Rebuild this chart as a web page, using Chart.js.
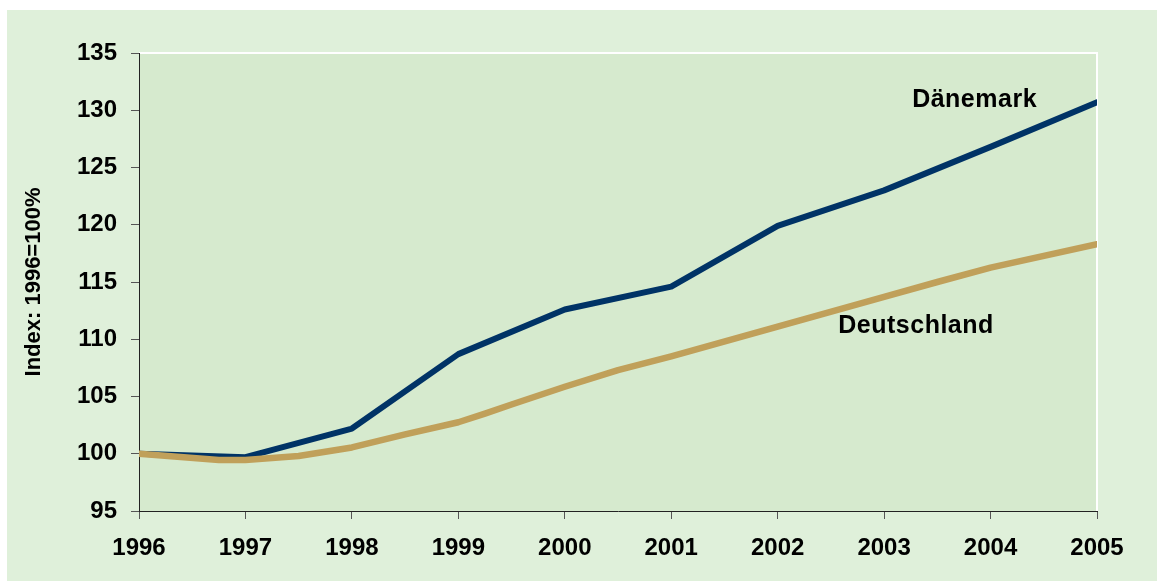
<!DOCTYPE html>
<html>
<head>
<meta charset="utf-8">
<script src="https://cdn.jsdelivr.net/npm/chart.js@4/dist/chart.umd.min.js"></script>
<style>
  html, body { margin: 0; padding: 0; background: #ffffff; }
  #wrap { width: 1157px; height: 581px; position: relative; }
</style>
</head>
<body>
<div id="wrap"><canvas id="indexChart"></canvas></div>
<script>
const yTicks = [95, 100, 105, 110, 115, 120, 125, 130, 135];
const years = [1996, 1997, 1998, 1999, 2000, 2001, 2002, 2003, 2004, 2005];
const daenemark = [100.0, 99.7, 102.2, 108.7, 112.6, 114.6, 119.9, 123.0, 126.8, 130.7];
const deutschlandX = [1996, 1996.75, 1997, 1997.5, 1998, 1998.5, 1999, 1999.25, 1999.5, 2000, 2000.5, 2001, 2002, 2003, 2003.5, 2004, 2005];
const deutschland = [100.0, 99.45, 99.45, 99.8, 100.55, 101.7, 102.75, 103.5, 104.3, 105.85, 107.3, 108.5, 111.1, 113.7, 115.0, 116.25, 118.3];
const seriesLabels = [
    { text: 'Dänemark', x: 2003.85, y: 130.9 },
    { text: 'Deutschland', x: 2003.3, y: 111.15 }
];

const font = '"Liberation Sans", Arial, sans-serif';

const backgroundPlugin = {
    id: 'background',
    beforeDraw(chart) {
        const ctx = chart.ctx;
        const a = chart.chartArea;
        ctx.save();
        ctx.fillStyle = '#dff0da';
        ctx.fillRect(7, 10, chart.width - 7, chart.height - 10);
        ctx.fillStyle = '#d6eace';
        ctx.fillRect(a.left, a.top, a.right - a.left, a.bottom - a.top);
        ctx.strokeStyle = '#ffffff';
        ctx.lineWidth = 2;
        ctx.beginPath();
        ctx.moveTo(a.left, a.top);
        ctx.lineTo(a.right, a.top);
        ctx.lineTo(a.right, a.bottom);
        ctx.stroke();
        ctx.restore();
    },
    afterDatasetsDraw(chart) {
        const ctx = chart.ctx;
        const xs = chart.scales.x;
        const ys = chart.scales.y;
        ctx.save();
        ctx.fillStyle = '#000000';
        ctx.font = 'bold 25px ' + font;
        ctx.letterSpacing = '0.5px';
        ctx.textAlign = 'center';
        ctx.textBaseline = 'middle';
        seriesLabels.forEach(l => {
            ctx.fillText(l.text, xs.getPixelForValue(l.x), ys.getPixelForValue(l.y));
        });
        ctx.restore();
    }
};

new Chart(document.querySelector('#indexChart'), {
    type: 'line',
    data: {
        datasets: [{
            label: 'Deutschland',
            data: deutschlandX.map((x, i) => ({ x: x, y: deutschland[i] })),
            borderColor: '#c0a05a',
            borderWidth: 6.5,
            pointRadius: 0,
            tension: 0,
            borderCapStyle: 'round',
            borderJoinStyle: 'round'
        }, {
            label: 'Dänemark',
            data: years.map((x, i) => ({ x: x, y: daenemark[i] })),
            borderColor: '#003366',
            borderWidth: 6,
            pointRadius: 0,
            tension: 0,
            borderCapStyle: 'round',
            borderJoinStyle: 'round'
        }]
    },
    options: {
        responsive: true,
        maintainAspectRatio: false,
        animation: false,
        layout: { padding: { top: 53, right: 60, left: 0, bottom: 0 } },
        plugins: {
            legend: { display: false },
            tooltip: { enabled: false }
        },
        scales: {
            x: {
                type: 'linear',
                min: 1996,
                max: 2005,
                afterFit: scale => { scale.height = 70; },
                afterBuildTicks: scale => { scale.ticks = years.map(v => ({ value: v })); },
                ticks: {
                    color: '#000000',
                    padding: 15,
                    font: { family: font, size: 24, weight: 'bold' },
                    callback: v => String(v),
                    maxRotation: 0,
                    autoSkip: false
                },
                grid: { drawOnChartArea: false, tickLength: 8, color: '#555555' },
                border: { color: '#222222', width: 1 }
            },
            y: {
                min: 95,
                max: 135,
                afterFit: scale => { scale.width = 139; },
                afterBuildTicks: scale => { scale.ticks = yTicks.map(v => ({ value: v })); },
                ticks: {
                    color: '#000000',
                    padding: 14,
                    font: { family: font, size: 24, weight: 'bold' }
                },
                grid: { drawOnChartArea: false, tickLength: 8, color: '#555555' },
                border: { color: '#222222', width: 1 },
                title: {
                    display: true,
                    text: 'Index: 1996=100%',
                    color: '#000000',
                    font: { family: font, size: 22, weight: 'bold' },
                    padding: { top: 21, bottom: 0 }
                }
            }
        }
    },
    plugins: [backgroundPlugin]
});
</script>
</body>
</html>
